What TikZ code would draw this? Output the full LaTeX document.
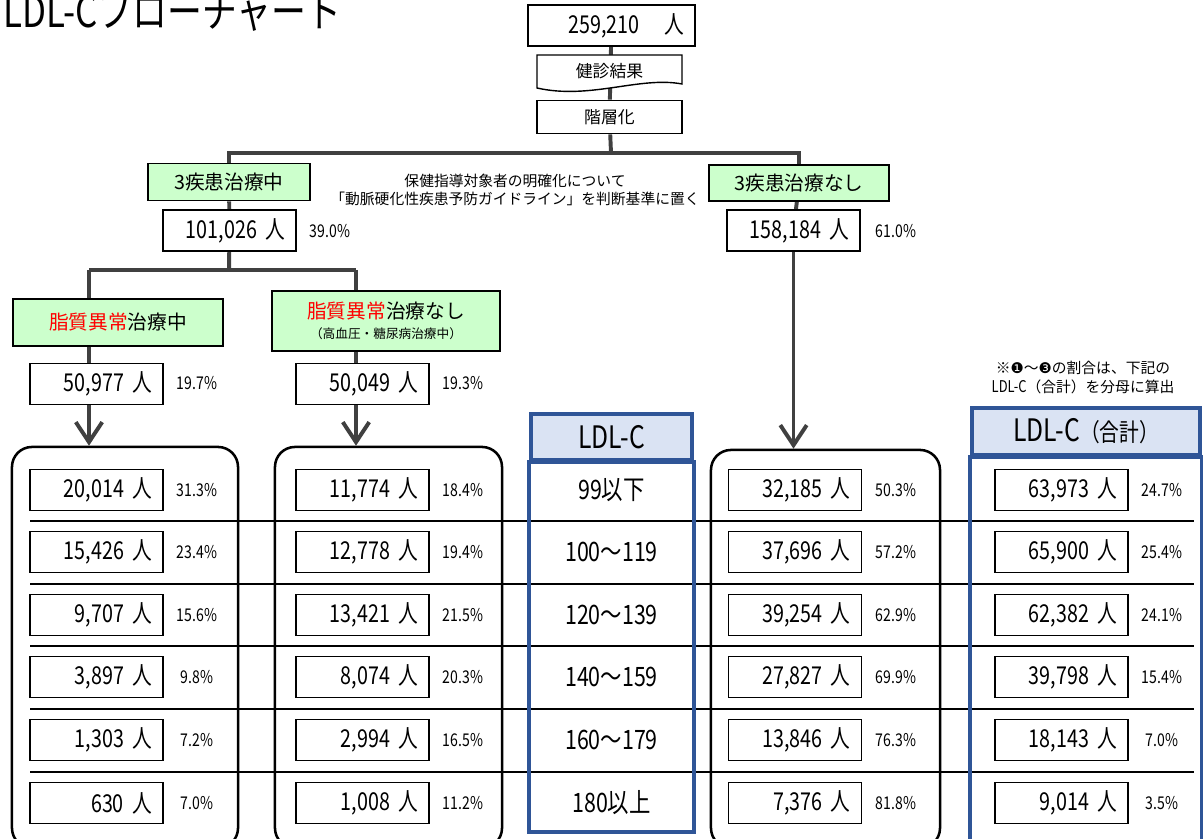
\documentclass[tikz,border=0pt]{standalone}
\usepackage{fontspec}
\setmainfont{Noto Sans CJK JP}
\newfontfamily\numfont[FakeStretch=0.8]{Noto Sans CJK JP}
\newfontfamily\symfont{DejaVu Sans}
\usetikzlibrary{arrows.meta,backgrounds}
\definecolor{kgreen}{HTML}{CCFFCC}
\definecolor{ldlblue}{HTML}{2F5597}
\definecolor{ldlhead}{HTML}{DAE3F3}
\definecolor{conngray}{HTML}{404040}
\tikzset{
  conn/.style={draw=conngray, line width=2.8pt},
  arr/.style={conn, -{Straight Barb[length=5mm,width=6.6mm]}},
  numbox/.style={draw, fill=white, line width=1.2pt, minimum height=1.025cm,
    inner xsep=0.28cm, text width=#1, align=right,
    font=\numfont\fontsize{17.5}{20}\selectfont},
  numbox/.default=2.765cm,
  pct/.style={font=\numfont\fontsize{12.5}{14}\selectfont},
  grbox/.style={draw, fill=kgreen, line width=1.2pt, align=center,
    font=\fontsize{14}{16}\selectfont},
  plainbox/.style={draw, fill=white, line width=1.2pt, minimum width=3.625cm,
    font=\fontsize{12}{14}\selectfont},
  group/.style={draw, line width=1.8pt, rounded corners=0.5cm},
  rowline/.style={draw, line width=1.1pt},
  bluebox/.style={draw=ldlblue, line width=2.6pt},
  ldlrow/.style={font=\numfont\fontsize{19}{21}\selectfont},
  note/.style={align=center, font=\fontsize{10.5}{12.8}\selectfont}
}
\begin{document}
\begin{tikzpicture}[x=0.025cm, y=-0.025cm]
  \useasboundingbox (0,0) rectangle (1203,839);

  % title
  \node[anchor=base west, inner sep=0pt, font=\numfont\fontsize{31}{34}\selectfont]
    (title) at (3,28) {LDL-Cフローチャート};

  % top part
  \node[numbox=3.615cm] (total) at (611.5,25.5) {259,210\hspace{0.62cm}人};
  \draw[fill=white, line width=1pt] (537,55) -- (682,55) -- (682,84)
    .. controls (640,76) and (590,100) .. (537,88) -- cycle;
  \node[font=\fontsize{12}{14}\selectfont] (kenshin) at (609.5,71) {健診結果};
  \node[plainbox, minimum height=0.825cm] (kaiso) at (609.5,117) {階層化};
  \coordinate (forkT) at (611,153);

  \node[grbox, minimum width=4.05cm, minimum height=0.925cm] (treat) at (229,182) {3疾患治療中};
  \node[grbox, minimum width=4.5cm, minimum height=0.9cm] (notreat) at (799,183) {3疾患治療なし};
  \node[note] (memo) at (515,190) {保健指導対象者の明確化について\\「動脈硬化性疾患予防ガイドライン」を判断基準に置く};

  \node[numbox] (treatn) at (229.5,230.5) {101,026 人};
  \node[pct] (treatp) at (330,231) {39.0\%};
  \node[numbox] (notreatn) at (793.5,230.5) {158,184 人};
  \node[pct] (notreatp) at (896,231) {61.0\%};
  \coordinate (forkM) at (229,270);
  \coordinate (forkL) at (89,270);
  \coordinate (forkR) at (356,270);

  \node[grbox, minimum width=5.25cm, minimum height=1.175cm] (lipyes) at (118,322.5)
    {\textcolor{red}{脂質異常}治療中};
  \node[grbox, minimum width=5.7cm, minimum height=1.5cm] (lipno) at (386,321)
    {\textcolor{red}{脂質異常}治療なし\\[-2pt]{\fontsize{9}{11}\selectfont（高血圧・糖尿病治療中）}};
  \node[numbox] (lipyesn) at (96.5,384) {50,977 人};
  \node[pct] (lipyesp) at (197,383) {19.7\%};
  \node[numbox] (lipnon) at (362.5,384) {50,049 人};
  \node[pct] (lipnop) at (463,383) {19.3\%};

  \node[note, font=\fontsize{10.5}{13.5}\selectfont] (memo2) at (1083,378)
    {※{\symfont\fontsize{10.5}{12}\selectfont ❶}～{\symfont\fontsize{10.5}{12}\selectfont ❸}の割合は、下記の\\
     {\numfont\fontsize{11.5}{13.5}\selectfont LDL-C}（合計）を分母に算出};

  % group frames
  \node[group, minimum width=5.65cm, minimum height=10.025cm] (g1) at (125,647.5) {};
  \node[group, minimum width=5.675cm, minimum height=10.025cm] (g2) at (388.5,647.5) {};
  \node[group, minimum width=5.725cm, minimum height=9.95cm] (g3) at (825.5,649) {};

  % table lines
  \draw[rowline] (30,521) -- (1194,521);
  \draw[rowline] (30,584) -- (1194,584);
  \draw[rowline] (30,646) -- (1194,646);
  \draw[rowline] (30,709) -- (1194,709);
  \draw[rowline] (30,772) -- (1194,772);

  % LDL-C columns
  \node[bluebox, fill=ldlhead, minimum width=4.025cm, minimum height=1.15cm,
    font=\numfont\fontsize{22}{24}\selectfont] (ldlh) at (611.5,437) {LDL-C};
  \draw[bluebox] (ldlh.south west) rectangle (ldlh.south east |- 0,832);
  \node[bluebox, fill=ldlhead, minimum width=5.7cm, minimum height=1.175cm,
    font=\numfont\fontsize{22}{24}\selectfont] (sumh) at (1086,431.5)
    {LDL-C{\fontsize{17.5}{19}\selectfont（合計）}};
  \draw[bluebox] (sumh.south west) rectangle (sumh.south east |- 0,850);

  % group 1
  \node[numbox] (a1) at (96.5,490) {20,014 人};
  \node[pct] (pa1) at (197,490) {31.3\%};
  \node[numbox] (a2) at (96.5,552) {15,426 人};
  \node[pct] (pa2) at (197,552) {23.4\%};
  \node[numbox] (a3) at (96.5,615) {9,707 人};
  \node[pct] (pa3) at (197,615) {15.6\%};
  \node[numbox] (a4) at (96.5,677) {3,897 人};
  \node[pct] (pa4) at (197,677) {9.8\%};
  \node[numbox] (a5) at (96.5,740) {1,303 人};
  \node[pct] (pa5) at (197,740) {7.2\%};
  \node[numbox] (a6) at (96.5,803) {630 人};
  \node[pct] (pa6) at (197,803) {7.0\%};

  % group 2
  \node[numbox] (b1) at (362.5,490) {11,774 人};
  \node[pct] (pb1) at (463,490) {18.4\%};
  \node[numbox] (b2) at (362.5,552) {12,778 人};
  \node[pct] (pb2) at (463,552) {19.4\%};
  \node[numbox] (b3) at (362.5,615) {13,421 人};
  \node[pct] (pb3) at (463,615) {21.5\%};
  \node[numbox] (b4) at (362.5,677) {8,074 人};
  \node[pct] (pb4) at (463,677) {20.3\%};
  \node[numbox] (b5) at (362.5,740) {2,994 人};
  \node[pct] (pb5) at (463,740) {16.5\%};
  \node[numbox] (b6) at (362.5,803) {1,008 人};
  \node[pct] (pb6) at (463,803) {11.2\%};

  % LDL-C classes
  \node[ldlrow] (l1) at (611.5,490) {99以下};
  \node[ldlrow] (l2) at (611.5,552) {100～119};
  \node[ldlrow] (l3) at (611.5,615) {120～139};
  \node[ldlrow] (l4) at (611.5,677) {140～159};
  \node[ldlrow] (l5) at (611.5,740) {160～179};
  \node[ldlrow] (l6) at (611.5,803) {180以上};

  % group 3
  \node[numbox] (c1) at (795,490) {32,185 人};
  \node[pct] (pc1) at (896,490) {50.3\%};
  \node[numbox] (c2) at (795,552) {37,696 人};
  \node[pct] (pc2) at (896,552) {57.2\%};
  \node[numbox] (c3) at (795,615) {39,254 人};
  \node[pct] (pc3) at (896,615) {62.9\%};
  \node[numbox] (c4) at (795,677) {27,827 人};
  \node[pct] (pc4) at (896,677) {69.9\%};
  \node[numbox] (c5) at (795,740) {13,846 人};
  \node[pct] (pc5) at (896,740) {76.3\%};
  \node[numbox] (c6) at (795,803) {7,376 人};
  \node[pct] (pc6) at (896,803) {81.8\%};

  % total column
  \node[numbox] (s1) at (1061.5,490) {63,973 人};
  \node[pct] (ps1) at (1162,490) {24.7\%};
  \node[numbox] (s2) at (1061.5,552) {65,900 人};
  \node[pct] (ps2) at (1162,552) {25.4\%};
  \node[numbox] (s3) at (1061.5,615) {62,382 人};
  \node[pct] (ps3) at (1162,615) {24.1\%};
  \node[numbox] (s4) at (1061.5,677) {39,798 人};
  \node[pct] (ps4) at (1162,677) {15.4\%};
  \node[numbox] (s5) at (1061.5,740) {18,143 人};
  \node[pct] (ps5) at (1162,740) {7.0\%};
  \node[numbox] (s6) at (1061.5,803) {9,014 人};
  \node[pct] (ps6) at (1162,803) {3.5\%};

  % connectors
  \begin{scope}[on background layer]
    \draw[conn] (total) -- (kaiso);
    \draw[conn] (kaiso) -- (forkT);
    \draw[conn] (treat) |- (forkT) -| (notreat);
    \draw[conn] (treat) -- (treatn);
    \draw[conn] (treatn) -- (forkM);
    \draw[conn] (notreat) -- (notreatn);
    \draw[conn] (forkL) -- (forkR);
    \draw[arr] (forkL) -- (forkL |- g1.north);
    \draw[arr] (forkR) -- (forkR |- g2.north);
    \draw[arr] (notreatn) -- (notreatn |- g3.north);
  \end{scope}
\end{tikzpicture}
\end{document}
